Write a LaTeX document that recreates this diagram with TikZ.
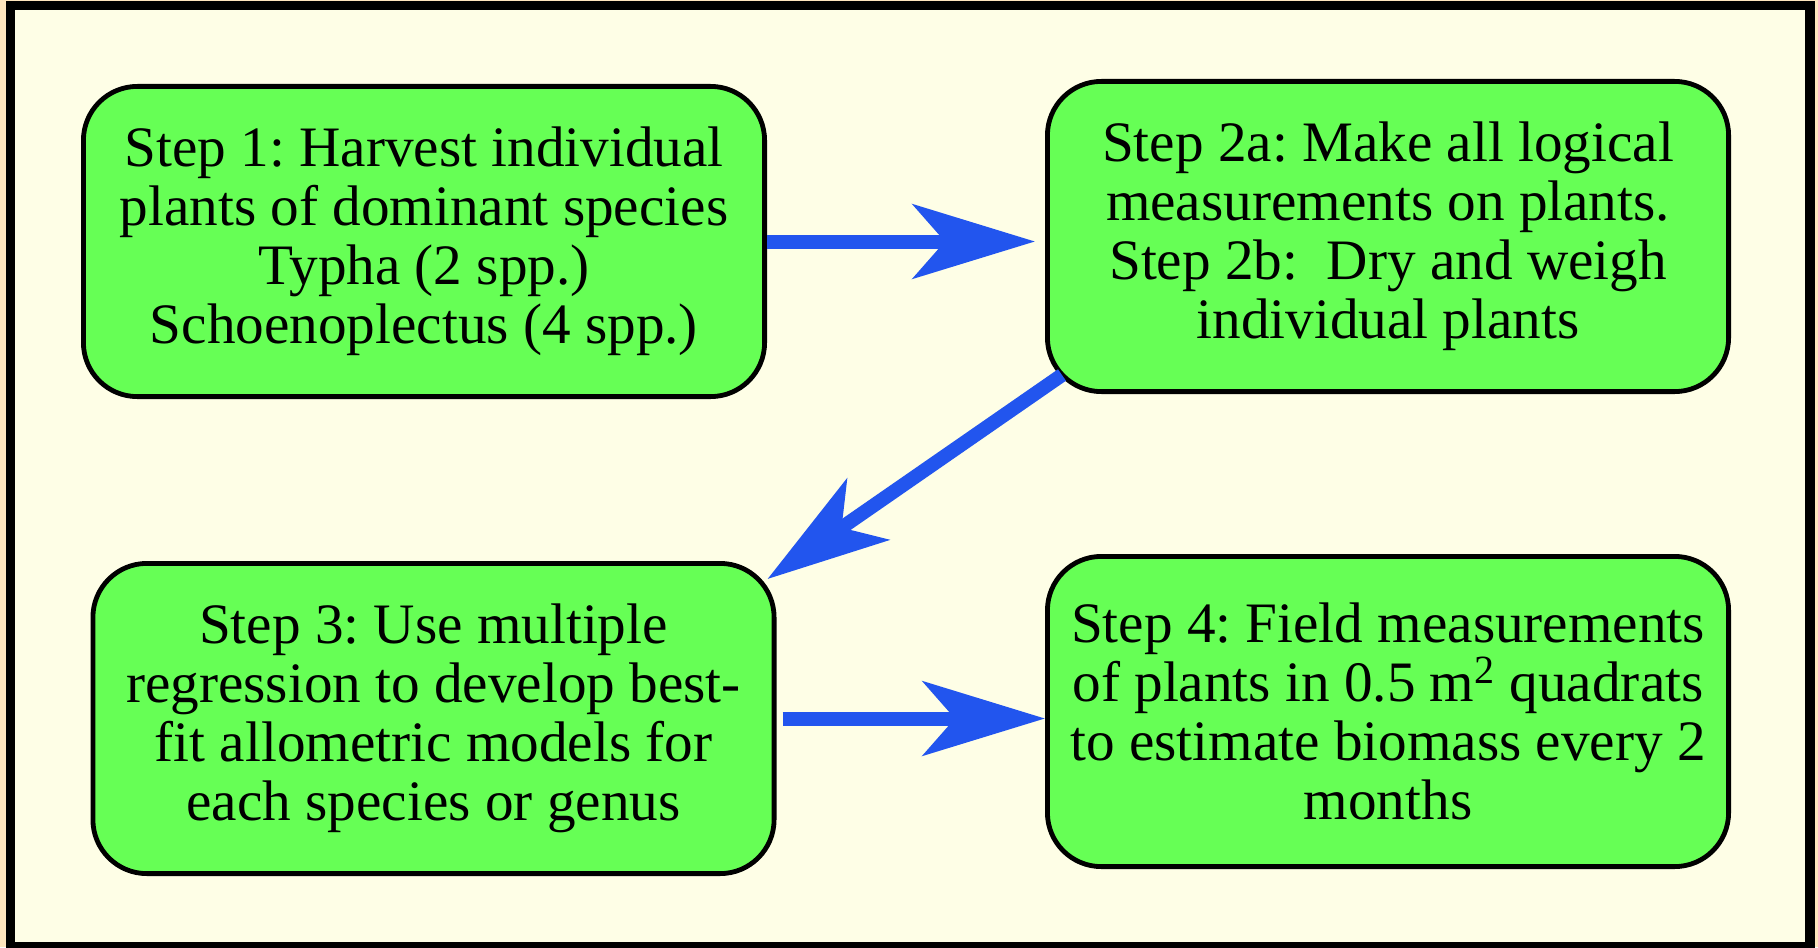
\documentclass[tikz,border=0pt]{standalone}
\usepackage{fontspec}
\setmainfont{Liberation Serif}
\usetikzlibrary{arrows.meta, positioning}
\definecolor{fondo}{RGB}{254,254,230}
\definecolor{marco}{RGB}{255,230,190}
\definecolor{verde}{RGB}{102,255,85}
\definecolor{azul}{RGB}{34,85,238}
\frenchspacing

\begin{document}
\begin{tikzpicture}[x=0.5pt, y=-0.5pt, node distance=139pt,
    paso/.style={draw, rectangle, rounded corners=27pt, line width=2.4pt, fill=verde,
        minimum width=340.6pt, minimum height=155.1pt, align=center,
        font=\fontsize{28.6}{29.5}\selectfont},
    flecha/.style={draw=azul, line width=7pt, -{Stealth[length=61pt, width=37pt, inset=16pt]}}]
    % Fondo y marco
    \useasboundingbox (0,0) rectangle (1818,947);
    \fill[marco] (0,0) rectangle (1818,947);
    \draw[line width=4.75pt, fill=fondo] (10.5,5.5) rectangle (1810,946.5);

    % Definir nodos para los pasos
    \node (paso1) [paso] at (424,241.5) {Step 1: Harvest individual\\plants of dominant species\\Typha (2 spp.)\\Schoenoplectus (4 spp.)};
    \node (paso2) [paso, right=of paso1, yshift=2.5pt] {Step 2a: Make all logical\\measurements on plants.\\Step 2b:\ \ Dry and weigh\\individual plants};
    \node (paso3) [paso, below=81pt of paso1, xshift=4.75pt] {Step 3: Use multiple\\regression to develop best-\\fit allometric models for\\each species or genus};
    \node (paso4) [paso, below=80pt of paso2] {Step 4: Field measurements\\of plants in 0.5 m\textsuperscript{2} quadrats\\to estimate biomass every 2\\months};

    % Dibujar flechas entre pasos
    \draw[flecha, shorten >=5pt] (paso1.east) -- (paso1.east -| paso2.west);
    \draw[flecha] ([xshift=8.5pt, yshift=9.5pt]paso2.south west) -- ([xshift=-4.5pt, yshift=-9pt]paso3.north east);
    \draw[flecha, shorten <=3pt] (paso3.east) -- (paso3.east -| paso4.west);
\end{tikzpicture}
\end{document}
